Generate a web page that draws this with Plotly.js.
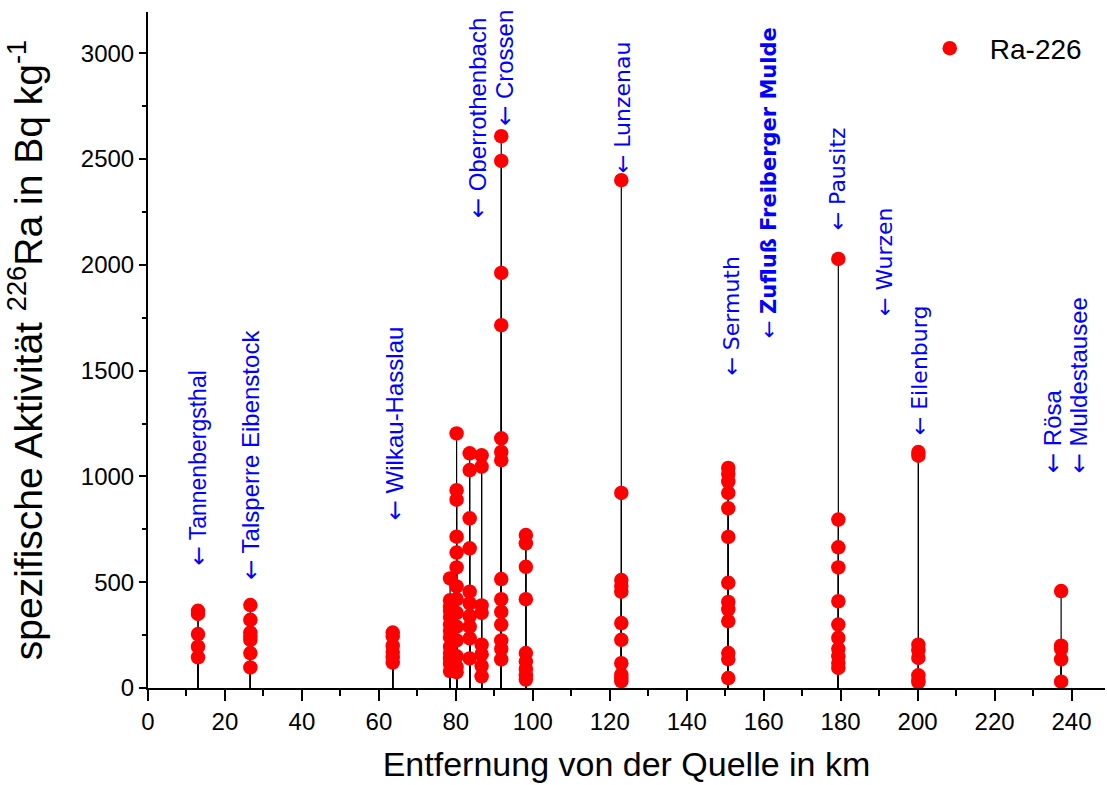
<!DOCTYPE html>
<html>
<head>
<meta charset="utf-8">
<script src="https://cdn.plot.ly/plotly-3.0.1.min.js"></script>
<style>html,body{margin:0;padding:0;background:#fff;}#chart{width:1107px;height:785px;}</style>
</head>
<body>
<div id="chart"></div>
<script>
// Sampling sites: distance from the source (km) and Ra-226 activities (Bq/kg)
const groupKm = [13.0, 26.6, 63.6, 78.5, 80.2, 83.6, 86.7, 91.8, 98.2, 123.0, 150.8, 179.4, 200.2, 237.3];
const groupValues = [
  [365, 350, 255, 195, 145],
  [392, 322, 262, 245, 228, 165, 97],
  [262, 245, 200, 170, 145, 120],
  [518, 415, 385, 365, 335, 300, 270, 240, 195, 165, 140, 115, 80],
  [1203, 935, 890, 715, 640, 570, 480, 420, 355, 290, 225, 150, 100, 75],
  [1109, 1030, 802, 660, 455, 400, 340, 290, 235, 140],
  [1100, 1046, 390, 355, 205, 160, 105, 55],
  [2608, 2491, 1962, 1715, 1180, 1116, 1077, 515, 420, 360, 300, 225, 185, 135],
  [723, 684, 573, 420, 165, 125, 90, 60, 40],
  [2400, 922, 510, 482, 455, 307, 228, 117, 63, 45, 32],
  [1040, 1012, 976, 922, 849, 714, 497, 407, 372, 316, 165, 136, 47],
  [2028, 796, 665, 570, 410, 300, 237, 185, 150, 118, 95],
  [1115, 1098, 205, 178, 142, 60, 38, 28],
  [458, 200, 185, 135, 30]
];
// Site labels (blue, rotated)
const siteNames = ['Tannenbergsthal', 'Talsperre Eibenstock', 'Wilkau-Hasslau', 'Oberrothenbach', 'Crossen',
  'Lunzenau', 'Sermuth', '<b>Zufluß Freiberger Mulde</b>', 'Pausitz', 'Wurzen', 'Eilenburg', 'Rösa', 'Muldestausee'];
const siteKm = [13.0, 26.7, 64.2, 85.7, 92.7, 123.2, 151.4, 161.3, 179.2, 191.2, 200.4, 235.0, 242.0];
const siteLabelY = [567, 501, 784, 2211, 2646, 2424, 1465, 1644, 2154, 1748, 1186, 1006, 1006];
const siteFontGroup = ['s', 'a', 'a', 'a', 'a', 'd', 'd', 'b', 'd', 'd', 'd', 'a', 'a'];

const xTickVals = [0, 20, 40, 60, 80, 100, 120, 140, 160, 180, 200, 220, 240];
const yTickVals = [0, 500, 1000, 1500, 2000, 2500, 3000];

const xs = [], ys = [];
groupKm.forEach((k, i) => groupValues[i].forEach(v => { xs.push(k); ys.push(v); }));

const trace = {
  x: xs, y: ys, type: 'scatter', mode: 'markers', name: 'Ra-226',
  marker: {color: '#ff0000', size: 14.5, line: {width: 0}},
  error_y: {type: 'data', symmetric: false, array: ys.map(() => 0), arrayminus: ys,
            color: '#000000', thickness: 1.2, width: 0},
  cliponaxis: false
};

const XR = [0, 248.7], YR = [0, 3195];
const SANS = 'Liberation Sans, Arial, sans-serif';
const tickFont = {family: SANS, size: 24, color: '#000'};
const ARROW = '<span style="font-family:DejaVu Sans">←</span> ';

const fontFor = g => g === 'a' ? {family: SANS, size: 24, color: '#0000ff'}
  : g === 's' ? {family: SANS, size: 23, color: '#0000ff'}
  : g === 'b' ? {family: 'DejaVu Sans, sans-serif', size: 21, color: '#0000ff'}
  : {family: 'DejaVu Sans, sans-serif', size: 22, color: '#0000ff'};

const annotations = siteNames.map((n, i) => ({
  x: siteKm[i], y: siteLabelY[i], xref: 'x', yref: 'y',
  text: ARROW + n, showarrow: false, textangle: -90,
  xanchor: 'center', yanchor: 'bottom',
  font: fontFor(siteFontGroup[i])
}));

const layout = {
  width: 1107, height: 785,
  margin: {l: 148, r: 2, t: 12, b: 97},
  paper_bgcolor: '#fff', plot_bgcolor: '#fff',
  showlegend: true,
  legend: {x: 0.796, y: 0.983, xanchor: 'left', yanchor: 'top', bgcolor: 'rgba(0,0,0,0)',
           font: {family: SANS, size: 28, color: '#000'}, itemwidth: 70},
  xaxis: {range: XR, autorange: false, showgrid: false, zeroline: false,
          showline: true, linecolor: '#000', linewidth: 2,
          tickmode: 'array', tickvals: xTickVals, ticks: 'outside', ticklen: 11, tickwidth: 2, tickcolor: '#000',
          minor: {dtick: 10, ticks: 'outside', ticklen: 6, tickwidth: 2, tickcolor: '#000', showgrid: false},
          tickfont: tickFont,
          title: {text: 'Entfernung von der Quelle in km', font: {family: SANS, size: 34, color: '#000'}, standoff: 18}},
  yaxis: {range: YR, autorange: false, showgrid: false, zeroline: false,
          showline: true, linecolor: '#000', linewidth: 2,
          tickmode: 'array', tickvals: yTickVals, ticks: 'outside', ticklen: 7, tickwidth: 2, tickcolor: '#000',
          minor: {dtick: 250, ticks: 'outside', ticklen: 4, tickwidth: 2, tickcolor: '#000', showgrid: false},
          tickfont: tickFont,
          title: {text: 'spezifische Aktivität <sup>226</sup>Ra in Bq kg<sup>-1</sup>', font: {family: SANS, size: 39, color: '#000'}, standoff: 26}},
  xaxis2: {overlaying: 'x', side: 'top', range: XR, autorange: false, showgrid: false, zeroline: false,
           showline: true, linecolor: '#000', linewidth: 2, showticklabels: false,
           tickmode: 'array', tickvals: xTickVals, ticks: 'inside', ticklen: 12, tickwidth: 2, tickcolor: '#000',
           minor: {dtick: 10, ticks: 'inside', ticklen: 7, tickwidth: 2, tickcolor: '#000', showgrid: false}},
  yaxis2: {overlaying: 'y', side: 'right', range: YR, autorange: false, showgrid: false, zeroline: false,
           showline: true, linecolor: '#000', linewidth: 2, showticklabels: false,
           tickmode: 'array', tickvals: yTickVals, ticks: 'inside', ticklen: 11, tickwidth: 2, tickcolor: '#000',
           minor: {dtick: 250, ticks: 'inside', ticklen: 6, tickwidth: 2, tickcolor: '#000', showgrid: false}},
  annotations: annotations
};

Plotly.newPlot('chart', [trace], layout, {displayModeBar: false, staticPlot: true});
</script>
</body>
</html>
